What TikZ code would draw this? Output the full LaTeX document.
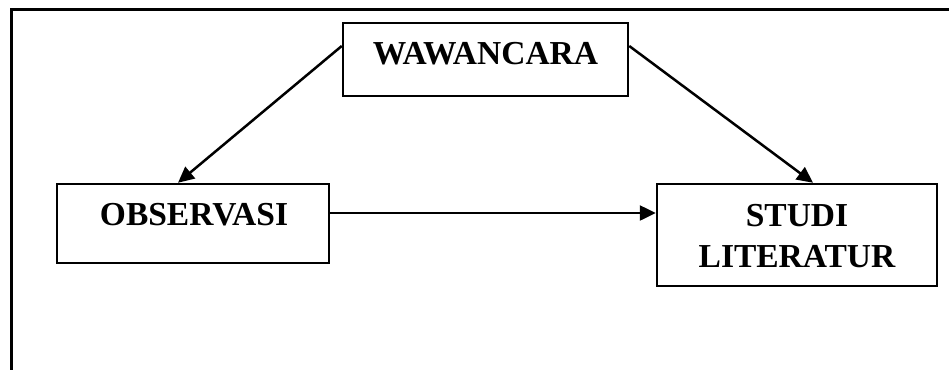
\documentclass[tikz,border=0pt]{standalone}
\usepackage{fontspec}
\setmainfont{Liberation Serif}
\usetikzlibrary{arrows.meta}
\begin{document}
\begin{tikzpicture}[x=1pt,y=-1pt,
  box/.style={draw=black, line width=2.5pt, rectangle, inner sep=0pt},
  lbl/.style={font=\fontsize{33.5}{41}\selectfont\bfseries, inner sep=0pt, anchor=base},
  arr/.style={line width=2.5pt, -{Triangle[length=16pt,width=15pt]}},
  frameline/.style={line width=3pt}]
\useasboundingbox (0,0) rectangle (949,370);
\fill[white] (0,0) rectangle (949,370);
% outer frame (top and left only)
\coordinate (ftr) at (949,9);
\coordinate (ftl) at (11,9);
\coordinate (fbl) at (11,370);
\draw[frameline] (ftr) -- (ftl) -- (fbl);
% boxes
\node[box, minimum width=285pt, minimum height=73pt] (w) at (485.5,59.5) {};
\node[box, minimum width=272pt, minimum height=79pt] (o) at (193,223.5) {};
\node[box, minimum width=280pt, minimum height=102pt] (s) at (797,235) {};
% labels
\node[lbl] (wt) at (485.5,64) {WAWANCARA};
\node[lbl] (ot) at (194,225) {OBSERVASI};
\node[lbl] (st1) at (797,226) {STUDI};
\node[lbl] (st2) at (797,267) {LITERATUR};
% connectors
\draw[arr] ([yshift=13.5pt]w.west) -- ([xshift=-15pt]o.north);
\draw[arr] ([yshift=13.5pt]w.east) -- ([xshift=16pt]s.north);
\draw[arr] ([yshift=10.5pt]o.east) -- ([yshift=10.5pt]o.east -| s.west);
\end{tikzpicture}
\end{document}
